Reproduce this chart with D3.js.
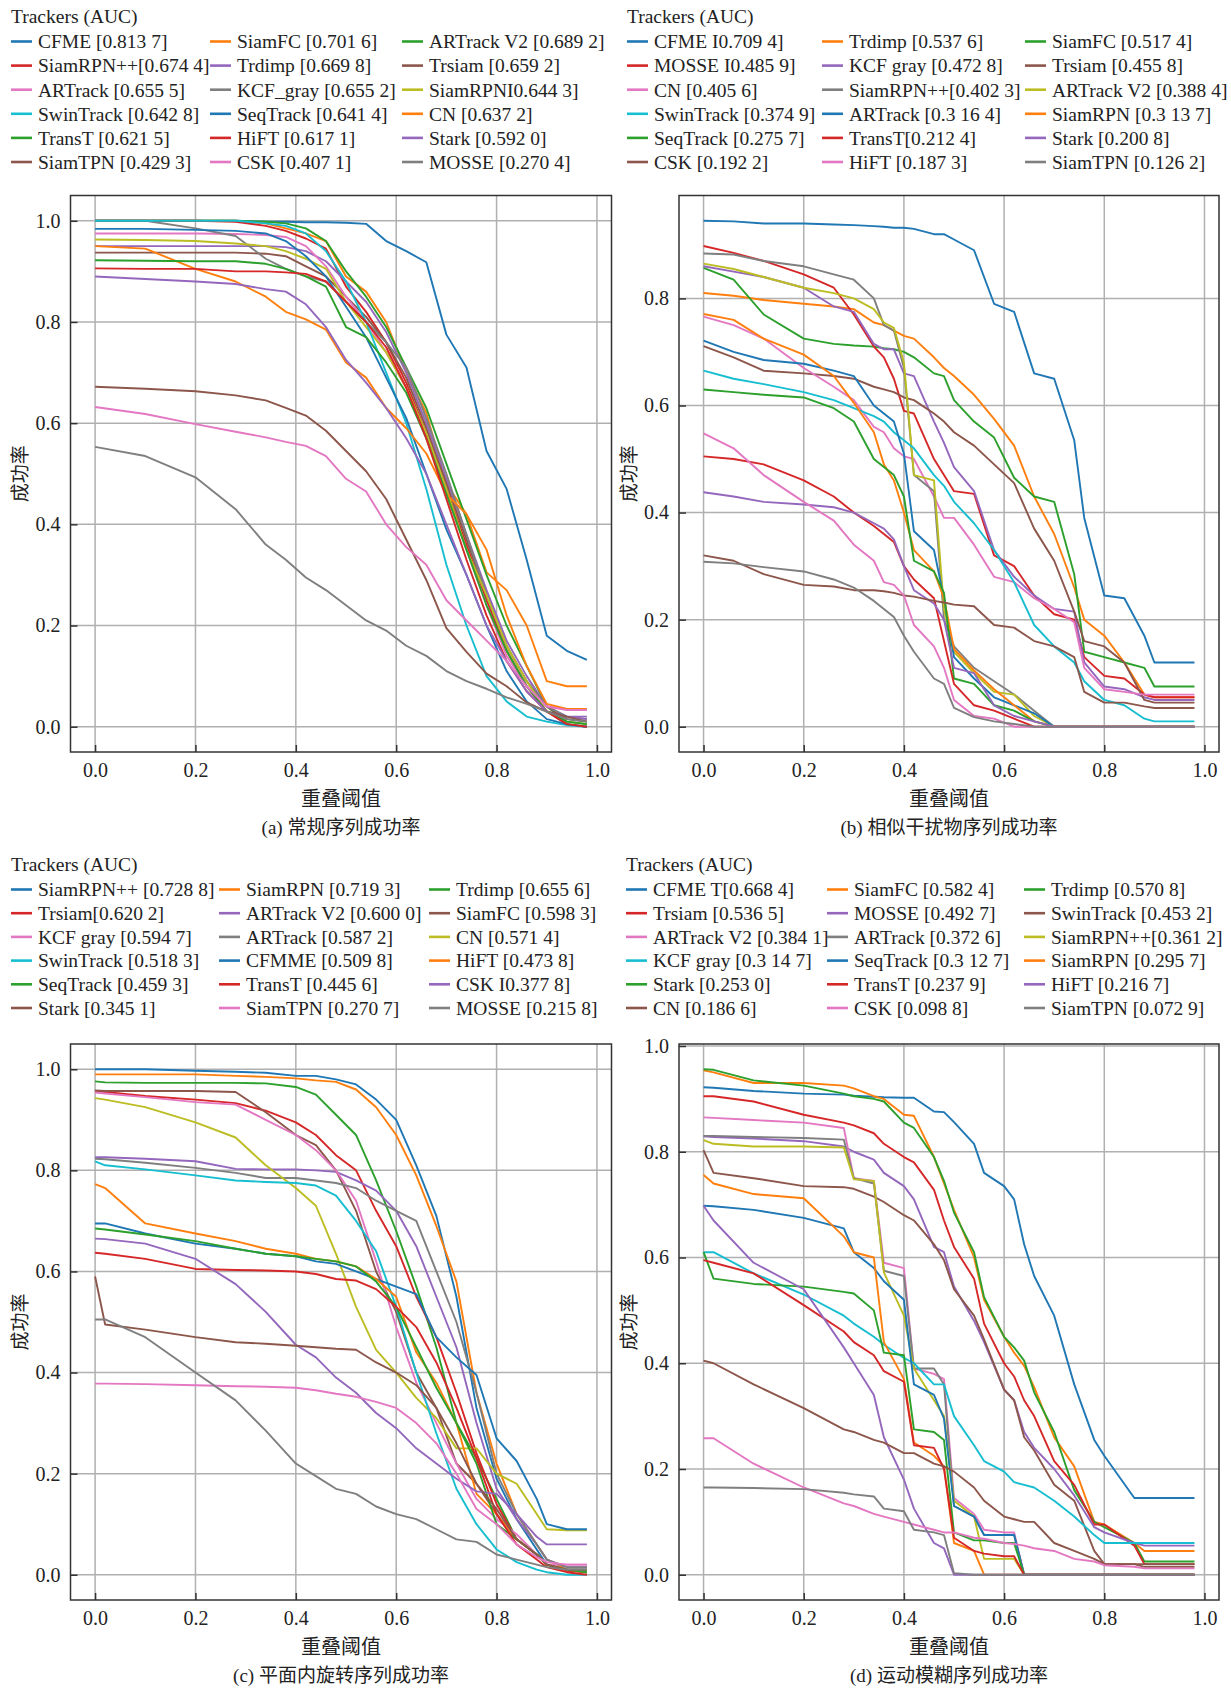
<!DOCTYPE html>
<html>
<head>
<meta charset="utf-8">
<script src="https://cdn.jsdelivr.net/npm/d3@7"></script>
<style>
  body { margin: 0; background: #fff; }
</style>
</head>
<body>
<svg width="1231" height="1689"></svg>
<script>
// success-rate curves, four sequence groups
const palette = ['#1f77b4', '#ff7f0e', '#2ca02c', '#d62728', '#9467bd',
                 '#8c564b', '#e377c2', '#7f7f7f', '#bcbd22', '#17becf'];
const xTicks = [0, 0.2, 0.4, 0.6, 0.8, 1.0];
const yTicks = [0, 0.2, 0.4, 0.6, 0.8, 1.0];
const xLabel = '重叠阈值';
const yLabel = '成功率';
const legendTitle = 'Trackers (AUC)';

// (a) 常规序列
const gridA = [0, 0.1, 0.2, 0.28, 0.34, 0.38, 0.42, 0.46, 0.5, 0.54, 0.58, 0.62, 0.66, 0.7, 0.74, 0.78, 0.82, 0.86, 0.9, 0.94, 0.98];
const namesA = ['CFME [0.813 7]', 'SiamFC [0.701 6]', 'ARTrack V2 [0.689 2]', 'SiamRPN++[0.674 4]', 'Trdimp [0.669 8]', 'Trsiam [0.659 2]',
  'ARTrack [0.655 5]', 'KCF_gray [0.655 2]', 'SiamRPNI0.644 3]', 'SwinTrack [0.642 8]', 'SeqTrack [0.641 4]', 'CN [0.637 2]',
  'TransT [0.621 5]', 'HiFT [0.617 1]', 'Stark [0.592 0]', 'SiamTPN [0.429 3]', 'CSK [0.407 1]', 'MOSSE [0.270 4]'];
const valuesA = [
  [1.0, 1.0, 1.0, 1.0, 0.998, 0.998, 0.997, 0.997, 0.996, 0.994, 0.96, 0.94, 0.918, 0.775, 0.71, 0.545, 0.47, 0.33, 0.18, 0.15, 0.132],
  [1.0, 1.0, 1.0, 1.0, 0.995, 0.985, 0.975, 0.96, 0.89, 0.86, 0.80, 0.70, 0.62, 0.48, 0.42, 0.305, 0.27, 0.2, 0.09, 0.08, 0.08],
  [1.0, 1.0, 1.0, 1.0, 0.998, 0.995, 0.985, 0.96, 0.9, 0.85, 0.79, 0.71, 0.63, 0.52, 0.41, 0.3, 0.2, 0.12, 0.04, 0.01, 0.005],
  [1.0, 1.0, 1.0, 0.998, 0.99, 0.98, 0.965, 0.945, 0.87, 0.82, 0.76, 0.68, 0.58, 0.47, 0.36, 0.25, 0.15, 0.08, 0.03, 0.005, 0.0],
  [0.95, 0.95, 0.95, 0.95, 0.95, 0.948, 0.94, 0.92, 0.88, 0.84, 0.78, 0.7, 0.6, 0.49, 0.38, 0.27, 0.17, 0.1, 0.04, 0.02, 0.02],
  [0.937, 0.937, 0.937, 0.937, 0.935, 0.93, 0.91, 0.89, 0.85, 0.81, 0.76, 0.69, 0.59, 0.48, 0.37, 0.26, 0.16, 0.09, 0.04, 0.015, 0.01],
  [0.975, 0.975, 0.975, 0.974, 0.972, 0.968, 0.95, 0.91, 0.85, 0.8, 0.74, 0.67, 0.57, 0.46, 0.35, 0.24, 0.14, 0.08, 0.04, 0.035, 0.035],
  [1.0, 1.0, 0.985, 0.97, 0.925, 0.905, 0.89, 0.88, 0.84, 0.8, 0.76, 0.71, 0.61, 0.5, 0.38, 0.26, 0.16, 0.09, 0.04, 0.02, 0.015],
  [0.963, 0.962, 0.96, 0.955, 0.95, 0.94, 0.925, 0.905, 0.84, 0.79, 0.74, 0.67, 0.58, 0.47, 0.35, 0.26, 0.16, 0.09, 0.03, 0.01, 0.005],
  [1.0, 1.0, 1.0, 1.0, 0.995, 0.99, 0.975, 0.94, 0.88, 0.8, 0.7, 0.6, 0.47, 0.32, 0.2, 0.1, 0.05, 0.02, 0.01, 0.003, 0.0],
  [0.984, 0.984, 0.982, 0.98, 0.975, 0.96, 0.93, 0.89, 0.83, 0.77, 0.69, 0.61, 0.5, 0.39, 0.3, 0.2, 0.11, 0.05, 0.015, 0.005, 0.0],
  [0.95, 0.945, 0.905, 0.88, 0.85, 0.82, 0.805, 0.785, 0.72, 0.69, 0.63, 0.59, 0.54, 0.46, 0.42, 0.35, 0.22, 0.12, 0.045, 0.035, 0.035],
  [0.922, 0.921, 0.92, 0.92, 0.915, 0.905, 0.89, 0.87, 0.79, 0.77, 0.72, 0.66, 0.57, 0.46, 0.35, 0.24, 0.15, 0.08, 0.03, 0.01, 0.005],
  [0.906, 0.905, 0.905, 0.9, 0.9, 0.898, 0.895, 0.88, 0.84, 0.8, 0.75, 0.67, 0.57, 0.45, 0.33, 0.22, 0.13, 0.07, 0.03, 0.005, 0.0],
  [0.89, 0.885, 0.88, 0.875, 0.865, 0.86, 0.835, 0.79, 0.725, 0.68, 0.63, 0.57, 0.5, 0.4, 0.3, 0.2, 0.13, 0.07, 0.03, 0.02, 0.015],
  [0.672, 0.668, 0.663, 0.655, 0.645, 0.63, 0.615, 0.585, 0.545, 0.505, 0.45, 0.37, 0.29, 0.195, 0.148, 0.105, 0.08, 0.048, 0.03, 0.02, 0.01],
  [0.632, 0.618, 0.598, 0.583, 0.572, 0.563, 0.555, 0.535, 0.49, 0.465, 0.4, 0.355, 0.32, 0.25, 0.21, 0.17, 0.13, 0.08, 0.04, 0.033, 0.033],
  [0.553, 0.535, 0.493, 0.43, 0.36, 0.33, 0.295, 0.27, 0.24, 0.21, 0.19, 0.16, 0.14, 0.11, 0.09, 0.075, 0.058, 0.045, 0.03, 0.015, 0.01]
];

// (b) 相似干扰物序列
const gridB = [0, 0.06, 0.12, 0.2, 0.26, 0.3, 0.34, 0.36, 0.38, 0.4, 0.42, 0.46, 0.48, 0.5, 0.54, 0.58, 0.62, 0.66, 0.7, 0.74, 0.76, 0.8, 0.84, 0.88, 0.9, 0.98];
const namesB = ['CFME I0.709 4]', 'Trdimp [0.537 6]', 'SiamFC [0.517 4]', 'MOSSE I0.485 9]', 'KCF gray [0.472 8]', 'Trsiam [0.455 8]',
  'CN [0.405 6]', 'SiamRPN++[0.402 3]', 'ARTrack V2 [0.388 4]', 'SwinTrack [0.374 9]', 'ARTrack [0.3 16 4]', 'SiamRPN [0.3 13 7]',
  'SeqTrack [0.275 7]', 'TransT[0.212 4]', 'Stark [0.200 8]', 'CSK [0.192 2]', 'HiFT [0.187 3]', 'SiamTPN [0.126 2]'];
const valuesB = [
  [0.945, 0.944, 0.94, 0.94, 0.938, 0.937, 0.935, 0.934, 0.932, 0.932, 0.93, 0.92, 0.92, 0.91, 0.89, 0.79, 0.775, 0.66, 0.65, 0.535, 0.39, 0.245, 0.24, 0.17, 0.12, 0.12],
  [0.81, 0.805, 0.797, 0.79, 0.785, 0.78, 0.755, 0.75, 0.74, 0.73, 0.725, 0.69, 0.67, 0.655, 0.62, 0.575, 0.525, 0.43, 0.36, 0.26, 0.2, 0.17, 0.12, 0.06, 0.055, 0.055],
  [0.857, 0.835, 0.77, 0.725, 0.715, 0.712, 0.71, 0.707, 0.705, 0.7, 0.69, 0.66, 0.655, 0.61, 0.57, 0.54, 0.465, 0.43, 0.42, 0.285, 0.14, 0.13, 0.12, 0.11, 0.075, 0.075],
  [0.898, 0.885, 0.87, 0.845, 0.82, 0.77, 0.71, 0.69, 0.65, 0.59, 0.585, 0.5, 0.47, 0.44, 0.435, 0.32, 0.3, 0.245, 0.21, 0.2, 0.13, 0.095, 0.09, 0.06, 0.055, 0.055],
  [0.86, 0.85, 0.84, 0.82, 0.785, 0.775, 0.715, 0.705, 0.705, 0.66, 0.655, 0.57, 0.53, 0.485, 0.44, 0.33, 0.28, 0.245, 0.22, 0.215, 0.12, 0.075, 0.07, 0.055, 0.05, 0.05],
  [0.711, 0.69, 0.665, 0.66, 0.655, 0.65, 0.635, 0.63, 0.625, 0.615, 0.61, 0.585, 0.57, 0.55, 0.525, 0.49, 0.455, 0.37, 0.31, 0.215, 0.16, 0.15, 0.12, 0.05, 0.045, 0.045],
  [0.766, 0.75, 0.725, 0.67, 0.635, 0.61, 0.56, 0.55, 0.52, 0.505, 0.5, 0.43, 0.39, 0.39, 0.34, 0.28, 0.27, 0.24, 0.22, 0.195, 0.11, 0.07, 0.065, 0.06, 0.06, 0.06],
  [0.884, 0.882, 0.87, 0.86, 0.845, 0.835, 0.8, 0.75, 0.74, 0.67, 0.47, 0.44, 0.2, 0.15, 0.11, 0.085, 0.06, 0.03, 0, 0, 0, 0, 0, 0, 0, 0],
  [0.865, 0.855, 0.84, 0.82, 0.81, 0.8, 0.78, 0.755, 0.745, 0.68, 0.47, 0.46, 0.22, 0.14, 0.1, 0.065, 0.06, 0.02, 0, 0, 0, 0, 0, 0, 0, 0],
  [0.665, 0.65, 0.64, 0.625, 0.61, 0.595, 0.58, 0.57, 0.55, 0.535, 0.52, 0.47, 0.45, 0.42, 0.38, 0.33, 0.27, 0.19, 0.15, 0.12, 0.085, 0.05, 0.04, 0.015, 0.01, 0.01],
  [0.721, 0.7, 0.685, 0.678, 0.665, 0.655, 0.6, 0.585, 0.57, 0.51, 0.365, 0.33, 0.24, 0.13, 0.09, 0.055, 0.04, 0.025, 0, 0, 0, 0, 0, 0, 0, 0],
  [0.771, 0.76, 0.725, 0.695, 0.655, 0.605, 0.55, 0.49, 0.46, 0.4, 0.33, 0.29, 0.24, 0.145, 0.105, 0.07, 0.04, 0.01, 0, 0, 0, 0, 0, 0, 0, 0],
  [0.63, 0.625, 0.62, 0.615, 0.595, 0.57, 0.5, 0.485, 0.47, 0.43, 0.31, 0.29, 0.25, 0.09, 0.08, 0.04, 0.03, 0.01, 0, 0, 0, 0, 0, 0, 0, 0],
  [0.505, 0.5, 0.49, 0.46, 0.43, 0.4, 0.375, 0.36, 0.345, 0.3, 0.275, 0.24, 0.16, 0.08, 0.04, 0.03, 0.015, 0, 0, 0, 0, 0, 0, 0, 0, 0],
  [0.438, 0.43, 0.42, 0.415, 0.41, 0.4, 0.38, 0.37, 0.35, 0.3, 0.255, 0.23, 0.2, 0.11, 0.1, 0.04, 0.02, 0.01, 0, 0, 0, 0, 0, 0, 0, 0],
  [0.32, 0.31, 0.285, 0.265, 0.262, 0.255, 0.255, 0.253, 0.25, 0.245, 0.243, 0.235, 0.232, 0.228, 0.225, 0.19, 0.185, 0.16, 0.15, 0.13, 0.065, 0.045, 0.045, 0.038, 0.035, 0.035],
  [0.548, 0.52, 0.47, 0.42, 0.385, 0.34, 0.31, 0.27, 0.265, 0.245, 0.19, 0.15, 0.11, 0.05, 0.02, 0.015, 0, 0, 0, 0, 0, 0, 0, 0, 0, 0],
  [0.308, 0.305, 0.298, 0.29, 0.275, 0.26, 0.235, 0.22, 0.205, 0.17, 0.14, 0.09, 0.08, 0.035, 0.018, 0.01, 0.005, 0, 0, 0, 0, 0, 0, 0, 0, 0]
];

// (c) 平面内旋转序列
const gridC = [0, 0.02, 0.1, 0.2, 0.28, 0.34, 0.4, 0.44, 0.48, 0.52, 0.56, 0.6, 0.64, 0.68, 0.72, 0.76, 0.8, 0.84, 0.88, 0.9, 0.94, 0.98];
const namesC = ['SiamRPN++ [0.728 8]', 'SiamRPN [0.719 3]', 'Trdimp [0.655 6]', 'Trsiam[0.620 2]', 'ARTrack V2 [0.600 0]', 'SiamFC [0.598 3]',
  'KCF gray [0.594 7]', 'ARTrack [0.587 2]', 'CN [0.571 4]', 'SwinTrack [0.518 3]', 'CFMME [0.509 8]', 'HiFT [0.473 8]',
  'SeqTrack [0.459 3]', 'TransT [0.445 6]', 'CSK I0.377 8]', 'Stark [0.345 1]', 'SiamTPN [0.270 7]', 'MOSSE [0.215 8]'];
const valuesC = [
  [1.0, 1.0, 1.0, 0.997, 0.995, 0.993, 0.987, 0.987, 0.98, 0.97, 0.94, 0.9, 0.81, 0.71, 0.55, 0.33, 0.19, 0.11, 0.05, 0.02, 0.01, 0.01],
  [0.99, 0.99, 0.99, 0.99, 0.987, 0.985, 0.982, 0.978, 0.975, 0.96, 0.925, 0.87, 0.79, 0.69, 0.58, 0.36, 0.22, 0.12, 0.06, 0.03, 0.01, 0.005],
  [0.976, 0.974, 0.973, 0.973, 0.973, 0.972, 0.965, 0.95, 0.91, 0.87, 0.78, 0.68, 0.57, 0.45, 0.3, 0.23, 0.15, 0.07, 0.04, 0.02, 0.01, 0.01],
  [0.957, 0.955, 0.947, 0.94, 0.933, 0.918, 0.895, 0.87, 0.83, 0.8, 0.72, 0.65, 0.55, 0.47, 0.36, 0.24, 0.14, 0.07, 0.04, 0.02, 0.008, 0.005],
  [0.826, 0.826, 0.823, 0.818, 0.803, 0.802, 0.802, 0.8, 0.797, 0.78, 0.76, 0.72, 0.65, 0.55, 0.45, 0.3, 0.17, 0.11, 0.06, 0.03, 0.015, 0.015],
  [0.958, 0.957, 0.957, 0.957, 0.955, 0.915, 0.87, 0.85, 0.8, 0.72, 0.6, 0.52, 0.4, 0.33, 0.22, 0.18, 0.12, 0.07, 0.04, 0.02, 0.01, 0.01],
  [0.954, 0.952, 0.945, 0.935, 0.93, 0.9, 0.87, 0.84, 0.8, 0.74, 0.62, 0.49, 0.38, 0.3, 0.22, 0.15, 0.11, 0.08, 0.04, 0.02, 0.02, 0.02],
  [0.823, 0.822, 0.815, 0.805, 0.795, 0.785, 0.785, 0.78, 0.775, 0.765, 0.74, 0.72, 0.7, 0.6, 0.5, 0.36, 0.2, 0.12, 0.06, 0.03, 0.015, 0.015],
  [0.943, 0.94, 0.925, 0.895, 0.865, 0.81, 0.765, 0.73, 0.635, 0.53, 0.445, 0.4, 0.35, 0.31, 0.25, 0.25, 0.2, 0.18, 0.12, 0.09, 0.088, 0.088],
  [0.818, 0.81, 0.802, 0.79, 0.78, 0.777, 0.775, 0.77, 0.75, 0.7, 0.64, 0.53, 0.4, 0.28, 0.17, 0.1, 0.05, 0.025, 0.01, 0.005, 0.0, 0.0],
  [0.695, 0.695, 0.675, 0.655, 0.645, 0.635, 0.63, 0.62, 0.615, 0.6, 0.585, 0.57, 0.555, 0.47, 0.43, 0.395, 0.27, 0.225, 0.15, 0.1, 0.09, 0.09],
  [0.773, 0.765, 0.695, 0.675, 0.66, 0.645, 0.635, 0.625, 0.62, 0.61, 0.585, 0.55, 0.44, 0.38, 0.3, 0.16, 0.12, 0.07, 0.04, 0.02, 0.01, 0.005],
  [0.685, 0.683, 0.673, 0.66, 0.645, 0.635, 0.63, 0.625, 0.62, 0.61, 0.58, 0.53, 0.45, 0.37, 0.3, 0.22, 0.1, 0.07, 0.04, 0.02, 0.01, 0.005],
  [0.637, 0.635, 0.625, 0.605, 0.603, 0.602, 0.6, 0.595, 0.585, 0.582, 0.565, 0.53, 0.49, 0.42, 0.33, 0.23, 0.12, 0.06, 0.03, 0.015, 0.005, 0.0],
  [0.665, 0.664, 0.655, 0.625, 0.575, 0.52, 0.455, 0.43, 0.39, 0.36, 0.32, 0.29, 0.25, 0.22, 0.19, 0.165, 0.16, 0.12, 0.075, 0.06, 0.06, 0.06],
  [0.59, 0.495, 0.485, 0.47, 0.46, 0.457, 0.453, 0.45, 0.447, 0.445, 0.42, 0.4, 0.375, 0.33, 0.26, 0.18, 0.13, 0.07, 0.04, 0.02, 0.01, 0.01],
  [0.378, 0.378, 0.377, 0.375, 0.373, 0.372, 0.37, 0.365, 0.358, 0.352, 0.342, 0.33, 0.3, 0.26, 0.2, 0.13, 0.1, 0.06, 0.035, 0.025, 0.02, 0.02],
  [0.505, 0.505, 0.47, 0.4, 0.345, 0.285, 0.22, 0.195, 0.17, 0.16, 0.135, 0.12, 0.11, 0.09, 0.07, 0.065, 0.04, 0.03, 0.02, 0.015, 0.01, 0.01]
];

// (d) 运动模糊序列
const gridD = [0, 0.02, 0.1, 0.2, 0.28, 0.3, 0.34, 0.36, 0.4, 0.42, 0.46, 0.48, 0.5, 0.54, 0.56, 0.6, 0.62, 0.64, 0.66, 0.7, 0.74, 0.78, 0.8, 0.86, 0.88, 0.98];
const namesD = ['CFME T[0.668 4]', 'SiamFC [0.582 4]', 'Trdimp [0.570 8]', 'Trsiam [0.536 5]', 'MOSSE [0.492 7]', 'SwinTrack [0.453 2]',
  'ARTrack V2 [0.384 1]', 'ARTrack [0.372 6]', 'SiamRPN++[0.361 2]', 'KCF gray [0.3 14 7]', 'SeqTrack [0.3 12 7]', 'SiamRPN [0.295 7]',
  'Stark [0.253 0]', 'TransT [0.237 9]', 'HiFT [0.216 7]', 'CN [0.186 6]', 'CSK [0.098 8]', 'SiamTPN [0.072 9]'];
const valuesD = [
  [0.922, 0.921, 0.915, 0.91, 0.908, 0.906, 0.904, 0.903, 0.902, 0.902, 0.876, 0.875, 0.856, 0.815, 0.76, 0.735, 0.71, 0.625, 0.565, 0.49, 0.36, 0.255, 0.225, 0.145, 0.145, 0.145],
  [0.954, 0.95, 0.93, 0.93, 0.925, 0.92, 0.905, 0.9, 0.87, 0.868, 0.79, 0.74, 0.69, 0.6, 0.52, 0.45, 0.42, 0.395, 0.355, 0.26, 0.205, 0.1, 0.095, 0.06, 0.045, 0.045],
  [0.956, 0.955, 0.935, 0.925, 0.91, 0.905, 0.9, 0.895, 0.855, 0.845, 0.79, 0.745, 0.685, 0.61, 0.525, 0.45, 0.43, 0.405, 0.345, 0.27, 0.16, 0.1, 0.09, 0.06, 0.025, 0.025],
  [0.905, 0.905, 0.895, 0.87, 0.855, 0.85, 0.835, 0.815, 0.79, 0.78, 0.728, 0.67, 0.62, 0.56, 0.475, 0.4, 0.375, 0.33, 0.3, 0.215, 0.17, 0.095, 0.095, 0.055, 0.02, 0.02],
  [0.829, 0.828, 0.825, 0.82, 0.81, 0.8, 0.785, 0.76, 0.735, 0.71, 0.62, 0.61, 0.545, 0.48, 0.44, 0.35, 0.33, 0.27, 0.24, 0.2, 0.15, 0.09, 0.08, 0.06, 0.055, 0.055],
  [0.803, 0.76, 0.75, 0.735, 0.733, 0.73, 0.715, 0.705, 0.68, 0.67, 0.625, 0.595, 0.54, 0.49, 0.445, 0.35, 0.33, 0.26, 0.235, 0.17, 0.14, 0.045, 0.02, 0.02, 0.015, 0.015],
  [0.865, 0.864, 0.86, 0.855, 0.845, 0.75, 0.745, 0.59, 0.58, 0.39, 0.38, 0.37, 0.145, 0.115, 0.085, 0.08, 0.08, 0, 0, 0, 0, 0, 0, 0, 0, 0],
  [0.83, 0.83, 0.828, 0.826, 0.823, 0.75, 0.74, 0.575, 0.565, 0.39, 0.39, 0.36, 0.13, 0.11, 0.075, 0.075, 0.075, 0, 0, 0, 0, 0, 0, 0, 0, 0],
  [0.822, 0.815, 0.81, 0.81, 0.808, 0.748, 0.745, 0.572, 0.49, 0.39, 0.33, 0.3, 0.14, 0.11, 0.03, 0.03, 0.03, 0, 0, 0, 0, 0, 0, 0, 0, 0],
  [0.61, 0.61, 0.57, 0.53, 0.49, 0.475, 0.45, 0.435, 0.41, 0.4, 0.36, 0.36, 0.3, 0.245, 0.215, 0.195, 0.175, 0.17, 0.165, 0.14, 0.11, 0.075, 0.06, 0.06, 0.06, 0.06],
  [0.698, 0.697, 0.69, 0.675, 0.655, 0.61, 0.58, 0.555, 0.52, 0.36, 0.34, 0.295, 0.13, 0.11, 0.075, 0.075, 0.075, 0, 0, 0, 0, 0, 0, 0, 0, 0],
  [0.756, 0.74, 0.72, 0.712, 0.64, 0.61, 0.6, 0.44, 0.37, 0.25, 0.225, 0.205, 0.06, 0.045, 0, 0, 0, 0, 0, 0, 0, 0, 0, 0, 0, 0],
  [0.61, 0.56, 0.55, 0.545, 0.535, 0.532, 0.5, 0.42, 0.415, 0.275, 0.27, 0.255, 0.08, 0.065, 0.065, 0.06, 0.06, 0, 0, 0, 0, 0, 0, 0, 0, 0],
  [0.595, 0.59, 0.57, 0.51, 0.46, 0.44, 0.415, 0.385, 0.365, 0.245, 0.24, 0.2, 0.07, 0.045, 0.04, 0.035, 0.035, 0, 0, 0, 0, 0, 0, 0, 0, 0],
  [0.698, 0.67, 0.59, 0.54, 0.43, 0.4, 0.34, 0.26, 0.18, 0.125, 0.06, 0.05, 0, 0, 0, 0, 0, 0, 0, 0, 0, 0, 0, 0, 0, 0],
  [0.405, 0.4, 0.36, 0.315, 0.275, 0.27, 0.255, 0.25, 0.23, 0.23, 0.21, 0.205, 0.195, 0.165, 0.14, 0.11, 0.105, 0.1, 0.1, 0.06, 0.045, 0.03, 0.02, 0.02, 0.02, 0.02],
  [0.258, 0.258, 0.21, 0.165, 0.135, 0.13, 0.115, 0.11, 0.1, 0.095, 0.085, 0.08, 0.08, 0.07, 0.068, 0.06, 0.058, 0.055, 0.05, 0.045, 0.03, 0.025, 0.018, 0.015, 0.012, 0.012],
  [0.165, 0.165, 0.164, 0.162, 0.155, 0.152, 0.148, 0.125, 0.12, 0.085, 0.08, 0.075, 0.003, 0, 0, 0, 0, 0, 0, 0, 0, 0, 0, 0, 0, 0]
];

const panels = [
  { grid: gridA, names: namesA, values: valuesA, caption: '(a) 常规序列成功率',
    left: 70.5, right: 611.5, top: 195.5, bottom: 752, legTop: 16, rowStep: 24.1, cols: [38, 237, 429] },
  { grid: gridB, names: namesB, values: valuesB, caption: '(b) 相似干扰物序列成功率',
    left: 679, right: 1219, top: 195.5, bottom: 752, legTop: 16, rowStep: 24.1, cols: [654, 849, 1052] },
  { grid: gridC, names: namesC, values: valuesC, caption: '(c) 平面内旋转序列成功率',
    left: 70.5, right: 611.5, top: 1044, bottom: 1600, legTop: 864, rowStep: 23.7, cols: [38, 246, 456] },
  { grid: gridD, names: namesD, values: valuesD, caption: '(d) 运动模糊序列成功率',
    left: 679, right: 1219, top: 1044, bottom: 1600, legTop: 864, rowStep: 23.7, cols: [653, 854, 1051] }
];

const svg = d3.select('svg');
const serif = "'Liberation Serif', 'Noto Sans CJK SC', serif";
const fmt = d3.format('.1f');

const drawPanel = p => {
  const g = svg.append('g');
  // scales with matplotlib-like 5% margins
  const xMax = d3.max(p.grid);
  const x = d3.scaleLinear().domain([-0.05 * xMax, xMax * 1.05]).range([p.left, p.right]);
  const yMax = d3.max(p.values, v => d3.max(v));
  const y = d3.scaleLinear().domain([-0.05 * yMax, yMax * 1.05]).range([p.bottom, p.top]);
  const yIn = yTicks.filter(t => t <= y.domain()[1]);

  // grid
  g.append('g').selectAll('line').data(xTicks).enter().append('line')
    .attr('x1', d => x(d)).attr('x2', d => x(d))
    .attr('y1', p.top).attr('y2', p.bottom)
    .attr('stroke', '#b0b0b0').attr('stroke-width', 1.5);
  g.append('g').selectAll('line').data(yIn).enter().append('line')
    .attr('x1', p.left).attr('x2', p.right)
    .attr('y1', d => y(d)).attr('y2', d => y(d))
    .attr('stroke', '#b0b0b0').attr('stroke-width', 1.5);

  // curves
  const line = d3.line().x((d, i) => x(p.grid[i])).y(d => y(d));
  g.append('g').selectAll('path').data(p.values).enter().append('path')
    .attr('d', line)
    .attr('fill', 'none')
    .attr('stroke', (d, i) => palette[i % 10])
    .attr('stroke-width', 1.9)
    .attr('stroke-linejoin', 'round');

  // axes, ticks pointing inwards
  const xAxis = g.append('g').attr('transform', `translate(0,${p.bottom})`)
    .call(d3.axisBottom(x).tickValues(xTicks).tickFormat(fmt).tickSize(-7).tickPadding(10.5));
  const yAxis = g.append('g').attr('transform', `translate(${p.left},0)`)
    .call(d3.axisLeft(y).tickValues(yIn).tickFormat(fmt).tickSize(-7).tickPadding(10));
  [xAxis, yAxis].forEach(a => {
    a.select('.domain').remove();
    a.selectAll('line').attr('stroke', '#333').attr('stroke-width', 1.5);
    a.selectAll('text').attr('font-family', serif).attr('font-size', 20).attr('fill', '#222');
  });

  // frame
  g.append('rect')
    .attr('x', p.left).attr('y', p.top)
    .attr('width', p.right - p.left).attr('height', p.bottom - p.top)
    .attr('fill', 'none').attr('stroke', '#333').attr('stroke-width', 1.5);

  // labels
  const cx = (p.left + p.right) / 2;
  g.append('text').text(xLabel)
    .attr('x', cx).attr('y', p.bottom + 47).attr('dy', '0.35em')
    .attr('text-anchor', 'middle').attr('font-family', serif).attr('font-size', 20).attr('fill', '#222');
  g.append('text').text(p.caption)
    .attr('x', cx).attr('y', p.bottom + 75).attr('dy', '0.35em')
    .attr('text-anchor', 'middle').attr('font-family', serif).attr('font-size', 19).attr('fill', '#222');
  g.append('text').text(yLabel)
    .attr('transform', `translate(${p.left - 50},${(p.top + p.bottom) / 2}) rotate(-90)`)
    .attr('dy', '0.35em')
    .attr('text-anchor', 'middle').attr('font-family', serif).attr('font-size', 19).attr('fill', '#222');

  // legend, three columns filled row by row
  const leg = g.append('g');
  leg.append('text').text(legendTitle)
    .attr('x', p.cols[0] - 27).attr('y', p.legTop).attr('dy', '0.35em')
    .attr('font-family', serif).attr('font-size', 19.5).attr('fill', '#222');
  const items = leg.selectAll('g.item').data(p.names).enter().append('g')
    .attr('transform', (d, i) => `translate(${p.cols[i % 3]},${p.legTop + 25.5 + Math.floor(i / 3) * p.rowStep})`);
  items.append('line')
    .attr('x1', -27).attr('x2', -6).attr('y1', 0).attr('y2', 0)
    .attr('stroke', (d, i) => palette[i % 10]).attr('stroke-width', 2.6);
  items.append('text').text(d => d)
    .attr('dy', '0.35em')
    .attr('font-family', serif).attr('font-size', 19.5).attr('fill', '#222');
};

panels.forEach(drawPanel);
</script>
</body>
</html>
